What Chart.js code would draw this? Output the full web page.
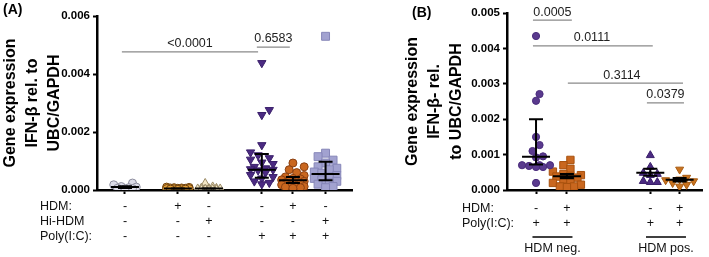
<!DOCTYPE html>
<html><head><meta charset="utf-8">
<script src="https://cdn.jsdelivr.net/npm/chart.js@4"></script>
<style>
html,body{margin:0;padding:0;background:#fff;}
#wrap{position:relative;width:709px;height:257px;overflow:hidden;font-family:"Liberation Sans",Arial,sans-serif;}
#ca{position:absolute;left:0;top:0;}
#cb{position:absolute;left:360px;top:0;}
.pl{position:absolute;font-weight:bold;font-size:14px;color:#000;}
</style></head><body>
<div id="wrap">
<canvas id="ca" width="360" height="257"></canvas>
<canvas id="cb" width="349" height="257"></canvas>
<div class="pl" style="left:3px;top:1px">(A)</div>
<div class="pl" style="left:412px;top:4px">(B)</div>
</div>
<script>
// ---------- Panel A data ----------
const hdmA   = ['-','+','-','-','+','-'];
const hiHdmA = ['-','-','+','-','-','+'];
const polyA  = ['-','-','-','+','+','+'];
const a1 = [0.00024,0.00018,0.00012,0.0001,0.00008,0.00006,0.00005,0.00004];
const a2 = [0.0001,0.00009,0.00008,0.00007,0.00007,0.00006,0.00006,0.00005,0.00005,0.00004,0.00004,0.00003,0.00003,0.00002];
const a3 = [0.00024,0.00012,0.00008,0.00007,0.00006,0.00005,0.00005,0.00004,0.00004,0.00003,0.00003,0.00002];
const a4 = [0.00438,0.00276,0.00259,0.00155,0.0013,0.0012,0.0011,0.00105,0.00095,0.0009,0.0008,0.00075,0.00072,0.0007,0.00068,0.0006,0.00052,0.00045,0.0004,0.0003,0.00025,0.0002];
const a5 = [0.00093,0.0008,0.0007,0.0006,0.0005,0.00045,0.0004,0.00038,0.00035,0.00032,0.0003,0.00028,0.00025,0.00022,0.0002,0.00018,0.00015,0.00012,0.0001,0.0001,0.00008,0.00006];
const a6 = [0.0053,0.00127,0.00115,0.00103,0.00093,0.0008,0.00075,0.0007,0.00062,0.00058,0.0005,0.00045,0.0004,0.00035,0.0003,0.00025,0.0002,0.00012,0.00008];
const midA = [0.0001,0.00005,0.00005,0.0007,0.00034,0.00055];
const loA  = [0.00007,0.00004,0.00004,0.00042,0.00024,0.00034];
const hiA  = [0.00013,0.00006,0.00006,0.00124,0.00045,0.00097];
const pA = ['<0.0001','0.6583'];
const yTicksA = [0,0.002,0.004,0.006];

// ---------- Panel B data ----------
const hdmB  = ['-','+','-','+'];
const polyB = ['+','+','+','+'];
const groupsB = ['HDM neg.','HDM pos.'];
const b1 = [0.00435,0.00271,0.00252,0.0015,0.00127,0.0011,0.00095,0.00092,0.0007,0.0007,0.0007,0.00068,0.00065,0.00065,0.0002];
const b2 = [0.00085,0.0007,0.0006,0.00052,0.00045,0.00042,0.0004,0.00038,0.00035,0.0003,0.00025,0.0002,0.00015,0.0001,0.0001,0.00008];
const b3 = [0.00098,0.00065,0.00048,0.00045,0.00042,0.00025,0.00022,0.00022];
const b4 = [0.00058,0.00035,0.0003,0.00028,0.00025,0.0002,0.00015,0.0001];
const midB = [0.00094,0.00039,0.00049,0.00029];
const loB  = [0.00072,0.00033,0.0004,0.00024];
const hiB  = [0.002,0.00045,0.0006,0.00034];
const pB = ['0.0005','0.0111','0.3114','0.0379'];
const yTicksB = [0,0.001,0.002,0.003,0.004,0.005];

// ---------- layout ----------
const slotsA = [1,2.7,3.7,5.4,6.4,7.45];
const slotsB = [1,2,4.7,5.65];
const FONT = '"Liberation Sans", Arial, sans-serif';

const deco = {
  id:'deco',
  afterDatasetsDraw(chart, args, o){
    const {ctx, scales:{x,y}} = chart;
    ctx.save();
    // error bars
    ctx.strokeStyle='#000'; ctx.lineWidth=2;
    o.mid.forEach((m,i)=>{
      const cx=x.getPixelForValue(o.slots[i]);
      const ym=y.getPixelForValue(m), yl=y.getPixelForValue(o.lo[i]), yh=y.getPixelForValue(o.hi[i]);
      ctx.beginPath();
      ctx.moveTo(cx-14,ym); ctx.lineTo(cx+14,ym);
      ctx.moveTo(cx,yl); ctx.lineTo(cx,yh);
      ctx.moveTo(cx-7,yl); ctx.lineTo(cx+7,yl);
      ctx.moveTo(cx-7,yh); ctx.lineTo(cx+7,yh);
      ctx.stroke();
    });
    // significance brackets
    ctx.font='12.5px '+FONT; ctx.textAlign='center'; ctx.textBaseline='middle';
    o.brackets.forEach(b=>{
      const x1=x.getPixelForValue(b.from), x2=x.getPixelForValue(b.to), yy=y.getPixelForValue(b.y);
      ctx.strokeStyle='#8a8a8a'; ctx.lineWidth=1.2;
      ctx.beginPath(); ctx.moveTo(x1,yy); ctx.lineTo(x2,yy); ctx.stroke();
      ctx.fillStyle='#222';
      ctx.fillText(b.text, x.getPixelForValue(b.tx!==undefined?b.tx:(b.from+b.to)/2), yy-8);
    });
    // rows under axis
    ctx.fillStyle='#111';
    o.rows.forEach(r=>{
      ctx.textAlign='left'; ctx.fillText(r.label, o.labelX, r.y);
      ctx.textAlign='center';
      r.signs.forEach((s,i)=>ctx.fillText(s, x.getPixelForValue(o.slots[i]), r.y));
    });
    (o.groups||[]).forEach(g=>{
      const mid=(x.getPixelForValue(o.slots[g.a])+x.getPixelForValue(o.slots[g.b]))/2+1;
      ctx.strokeStyle='#000'; ctx.lineWidth=1.5;
      ctx.beginPath(); ctx.moveTo(mid-20,o.groupLineY); ctx.lineTo(mid+20,o.groupLineY); ctx.stroke();
      ctx.textAlign='center'; ctx.fillText(g.text, mid, o.groupTextY);
    });
    ctx.restore();
  }
};

function ds(vals, slot, style, r, bg, bd, rot){
  return {data: vals.map(v=>({x:slot,y:v})), pointStyle:style, pointRadius:r, pointHoverRadius:r,
          backgroundColor:bg, borderColor:bd, borderWidth:1, rotation:rot||0, showLine:false};
}

function makeOpts(xmin,xmax,slots,ymax,yTicks,step,title,yWidth,titlePad,pad,deco){
  return {
    responsive:false, animation:false, events:[],
    layout:{padding:pad},
    plugins:{legend:{display:false}, tooltip:{enabled:false}, deco},
    scales:{
      x:{type:'linear', min:xmin, max:xmax,
         afterBuildTicks:s=>{s.ticks=slots.map(v=>({value:v}));},
         ticks:{display:false},
         grid:{drawOnChartArea:false, drawTicks:true, tickLength:4, tickWidth:2, tickColor:'#000'},
         border:{display:true,color:'#000',width:2.5},
         afterFit:s=>{s.height=67;}},
      y:{min:0, max:ymax,
         afterBuildTicks:s=>{s.ticks=yTicks.map(v=>({value:v}));},
         ticks:{callback:v=>v.toFixed(3), color:'#000', padding:3, font:{family:FONT,size:11.5,weight:'bold'}},
         grid:{drawOnChartArea:false, drawTicks:true, tickLength:4, tickWidth:2, tickColor:'#000'},
         border:{display:true,color:'#000',width:2.5},
         title:{display:true, text:title, color:'#000', padding:{top:titlePad,bottom:0},
                font:{family:FONT,size:16,weight:'bold',lineHeight:22/16}},
         afterFit:s=>{s.width=yWidth;}}
    }
  };
}

const setsA=[a1,a2,a3,a4,a5,a6];
const chartA = new Chart(document.getElementById('ca'), {
  type:'scatter',
  data:{datasets:[
    ds(a1,slotsA[0],'circle',4,'#dcdce8','#8c8c9c'),
    ds(a2,slotsA[1],'circle',4,'#e6a23a','#6e4210'),
    ds(a3,slotsA[2],'triangle',4.6,'#f3e7c6','#9a8a66'),
    ds(a4,slotsA[3],'triangle',4.8,'#4b2a82','#3a1f6a',180),
    ds(a5,slotsA[4],'circle',4,'#c9671f','#8a4012'),
    ds(a6,slotsA[5],'rect',5.6,'#a2a2d0','#8686b8')
  ]},
  options: makeOpts(0.1,8.3,slotsA,0.006,yTicksA,0.002,['Gene expression','IFN-β rel. to','UBC/GAPDH'],97,0,
    {top:16,right:8,left:0,bottom:0},
    {slots:slotsA, mid:midA, lo:loA, hi:hiA,
     brackets:[{from:0.9,to:5.28,y:0.00476,text:pA[0]},{from:5.24,to:6.3,y:0.00493,text:pA[1]}],
     rows:[{label:'HDM:',signs:hdmA,y:207},{label:'Hi-HDM',signs:hiHdmA,y:222},{label:'Poly(I:C):',signs:polyA,y:237}],
     labelX:40})
  ,plugins:[deco]
});

const setsB=[b1,b2,b3,b4];
const chartB = new Chart(document.getElementById('cb'), {
  type:'scatter',
  data:{datasets:[
    ds(b1,slotsB[0],'circle',3.6,'#5a3a8e','#4a2c7c'),
    ds(b2,slotsB[1],'rect',5.2,'#c9671f','#a8520f'),
    ds(b3,slotsB[2],'triangle',4.6,'#4b2a82','#3a1f6a'),
    ds(b4,slotsB[3],'triangle',4.6,'#c9731f','#a85a10',180)
  ]},
  options: makeOpts(0.06,6.4,slotsB,0.005,yTicksB,0.001,['Gene expression','IFN-β- rel.','to UBC/GAPDH'],147,42,
    {top:13,right:6,left:0,bottom:0},
    {slots:slotsB, mid:midB, lo:loB, hi:hiB,
     brackets:[{from:0.9,to:2.16,y:0.0048,text:pB[0]},{from:0.9,to:4.78,y:0.00407,text:pB[1],tx:2.81},
               {from:2.03,to:5.76,y:0.00302,text:pB[2],tx:3.78},{from:4.59,to:5.79,y:0.00246,text:pB[3]}],
     rows:[{label:'HDM:',signs:hdmB,y:209},{label:'Poly(I:C):',signs:polyB,y:224}],
     labelX:102,
     groups:[{a:0,b:1,text:groupsB[0]},{a:2,b:3,text:groupsB[1]}], groupLineY:237, groupTextY:249})
  ,plugins:[deco]
});

function swarm(chart, sets, slots, sep, maxHalf){
  const xs=chart.scales.x, ys=chart.scales.y;
  chart.data.datasets.forEach((d,i)=>{
    const vals=sets[i];
    const cx=xs.getPixelForValue(slots[i]);
    const placed=[];
    const order=vals.map((v,k)=>k).sort((a,b)=>vals[a]-vals[b]);
    order.forEach(k=>{
      const py=ys.getPixelForValue(vals[k]);
      let best=0, bestScore=-1;
      const nMax=2*Math.ceil(maxHalf/(sep/2));
      for(let n=0;n<=nMax;n++){
        const off=(n%2?1:-1)*Math.ceil(n/2)*sep/2;
        if(Math.abs(off)>maxHalf) continue;
        let md=Infinity;
        placed.forEach(p=>{const dd=Math.hypot(p.x-off,p.y-py); if(dd<md) md=dd;});
        if(md>=sep){best=off;bestScore=Infinity;break;}
        if(md>bestScore){bestScore=md;best=off;}
      }
      placed.push({x:best,y:py});
      d.data[k].x=xs.getValueForPixel(cx+best);
    });
  });
  chart.update('none');
}
swarm(chartA,setsA,slotsA,7.5,14);
swarm(chartB,setsB,slotsB,7,14);
</script>
</body></html>
